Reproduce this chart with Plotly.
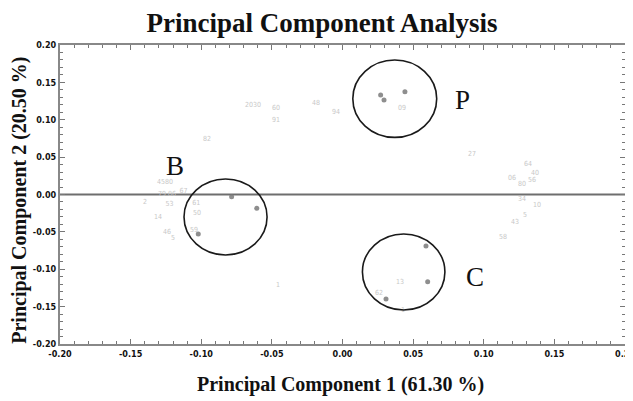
import plotly.graph_objects as go

# light-gray sample labels (PC1, PC2)
label_text = ["4580", "2", "79", "86", "67", "53", "14", "46", "5", "61", "50", "59",
              "2030", "60", "91", "48", "94", "82", "09", "27",
              "64", "06", "80", "40", "56", "34", "10", "5", "43", "58",
              "13", "62", "1", "1"]
label_pc1 = [-0.1257, -0.1398, -0.1278, -0.1207, -0.1125, -0.1225, -0.1306, -0.1242, -0.1200, -0.1035, -0.1030, -0.1051,
             -0.0634, -0.0471, -0.0471, -0.0188, -0.0046, -0.0959, 0.0421, 0.0917,
             0.1313, 0.1200, 0.1271, 0.1363, 0.1342, 0.1271, 0.1377, 0.1292, 0.1221, 0.1136,
             0.0407, 0.0258, 0.0428, -0.0457]
label_pc2 = [0.0160, -0.0100, 0.0000, 0.0000, 0.0045, -0.0134, -0.0301, -0.0502, -0.0582, -0.0114, -0.0247, -0.0475,
             0.1197, 0.1157, 0.0997, 0.1224, 0.1104, 0.0742, 0.1157, 0.0542,
             0.0408, 0.0221, 0.0134, 0.0281, 0.0187, -0.0060, -0.0140, -0.0274, -0.0368, -0.0569,
             -0.1171, -0.1318, -0.1545, -0.1211]

# dark highlighted points
dot_pc1 = [-0.0785, -0.0607, -0.1021, 0.0270, 0.0294, 0.0442, 0.0591, 0.0603, 0.0308]
dot_pc2 = [-0.0030, -0.0185, -0.0528, 0.1331, 0.1264, 0.1375, -0.0689, -0.1167, -0.1398]

# group circles
group_names = ["B", "P", "C"]
group_cx = [-0.0828, 0.0370, 0.0433]
group_cy = [-0.0301, 0.1282, -0.1037]
group_rx = [0.0294, 0.0297, 0.0292]
group_ry = [0.0508, 0.0518, 0.0508]
group_label_x = [-0.1186, 0.0853, 0.0938]
group_label_y = [0.0375, 0.1264, -0.1104]

tick_vals = [-0.20, -0.15, -0.10, -0.05, 0.00, 0.05, 0.10, 0.15, 0.20]
tick_text = ["-0.20", "-0.15", "-0.10", "-0.05", "0.00", "0.05", "0.10", "0.15", "0.20"]

serif = "Liberation Serif, Times New Roman, serif"

fig = go.Figure()
fig.add_trace(go.Scatter(
    x=label_pc1, y=label_pc2, mode="text", text=label_text,
    textfont=dict(family="DejaVu Sans Condensed, Liberation Sans Narrow, sans-serif", size=7, color="#c8c8c8"),
    hoverinfo="skip", showlegend=False))
fig.add_trace(go.Scatter(
    x=dot_pc1, y=dot_pc2, mode="markers",
    marker=dict(size=5, color="#7a7a7a", opacity=0.85),
    showlegend=False))

for name, cx, cy, rx, ry, lx, ly in zip(group_names, group_cx, group_cy, group_rx, group_ry,
                                        group_label_x, group_label_y):
    fig.add_shape(type="circle", xref="x", yref="y",
                  x0=cx - rx, x1=cx + rx, y0=cy - ry, y1=cy + ry,
                  line=dict(color="#1a1a1a", width=1.6))
    fig.add_annotation(x=lx, y=ly, xref="x", yref="y", text=name, showarrow=False, borderpad=0,
                       font=dict(family=serif, size=27, color="#111"))

fig.add_shape(type="line", xref="paper", yref="y", x0=0, x1=1, y0=0, y1=0,
              line=dict(color="#6e6e6e", width=2), layer="below")

# axis titles
fig.add_annotation(x=0.4956, y=-0.137, xref="paper", yref="paper", xanchor="center", yanchor="middle",
                   text="<b>Principal Component 1 (61.30 %)</b>", showarrow=False,
                   font=dict(family=serif, size=20, color="#111"))
fig.add_annotation(x=-0.071, y=0.482, xref="paper", yref="paper", xanchor="center", yanchor="middle",
                   text="<b>Principal Component 2 (20.50 %)</b>", showarrow=False, textangle=-90,
                   font=dict(family=serif, size=20, color="#111"))

tickfont = dict(family="DejaVu Sans Condensed, Liberation Sans Narrow, sans-serif", size=9, color="#111", weight="bold")
axis_common = dict(
    range=[-0.2, 0.2], tickvals=tick_vals, ticktext=tick_text, tickfont=tickfont,
    ticks="inside", ticklen=5, tickcolor="#777", tickwidth=1,
    minor=dict(ticks="inside", dtick=0.01, ticklen=3, tickcolor="#777"),
    showline=True, linecolor="#888", linewidth=2, mirror="ticks",
    showgrid=False, zeroline=False, fixedrange=True, automargin=False,
    ticklabeloverflow="allow",
)

fig.update_layout(
    width=625, height=393,
    margin=dict(l=52, r=8, t=37, b=57),
    paper_bgcolor="white", plot_bgcolor="white",
    title=dict(text="<b>Principal Component Analysis</b>", x=0.4637, xref="paper", y=0.962, yref="container",
               yanchor="middle", xanchor="center",
               font=dict(family=serif, size=27, color="#111")),
    xaxis=dict(**axis_common),
    yaxis=dict(**axis_common),
)

fig.write_html("out.html")
